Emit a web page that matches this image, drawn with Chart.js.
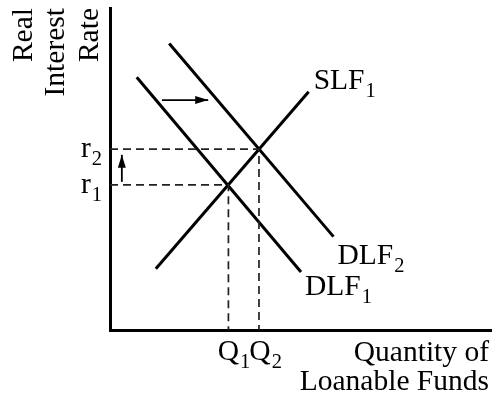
<!DOCTYPE html>
<html>
<head>
<meta charset="utf-8">
<script src="https://cdn.jsdelivr.net/npm/chart.js@4"></script>
<style>
  html, body { margin: 0; padding: 0; background: #fff; }
  #wrap { width: 492px; height: 395px; }
</style>
</head>
<body>
<div id="wrap"><canvas id="myChart" width="492" height="395"></canvas></div>
<script>
// Axis ranges (arbitrary units)
const xRange = [0, 100]
const yRange = [0, 100]

// Curves: end points
const dlf1X = [7, 50]
const dlf1Y = [78.5, 18]
const dlf2X = [15.5, 58.5]
const dlf2Y = [89, 29]
const slf1X = [12, 52]
const slf1Y = [19, 74]

// Equilibrium quantities and rates
const qValues = [31, 39]
const rValues = [45.1, 56.2]
const qLabels = ['Q', 'Q']
const rLabels = ['r', 'r']
const subLabels = ['1', '2']

// Shift arrows
const shiftArrowX = [13.6, 25.7]
const shiftArrowY = [71.4, 71.4]
const rateArrowX = [3.1, 3.1]
const rateArrowY = [46.0, 54.4]

const serif = '"Liberation Serif", "Times New Roman", serif'
const mainFont = '29.5px ' + serif
const subFont = '20.5px ' + serif

const toPoints = (xs, ys) => xs.map((v, i) => ({ x: v, y: ys[i] }))

// Draw "main" with a smaller subscript, left edge at px, baseline at py
const drawSub = (ctx, main, sub, px, py) => {
    ctx.font = mainFont
    const w = ctx.measureText(main).width
    ctx.fillText(main, px, py)
    ctx.font = subFont
    ctx.fillText(sub, px + w + 1, py + 8)
}

const subWidth = (ctx, main, sub) => {
    ctx.font = mainFont
    const w = ctx.measureText(main).width
    ctx.font = subFont
    return w + 1 + ctx.measureText(sub).width
}

const arrowHead = (ctx, from, to, len, half) => {
    const a = Math.atan2(to.y - from.y, to.x - from.x)
    ctx.save()
    ctx.translate(to.x, to.y)
    ctx.rotate(a)
    ctx.beginPath()
    ctx.moveTo(0, 0)
    ctx.lineTo(-len, -half)
    ctx.lineTo(-len, half)
    ctx.closePath()
    ctx.fill()
    ctx.restore()
}

// Labels, axis titles and arrow heads
const annotate = {
    id: 'annotate',
    afterDatasetsDraw(chart) {
        const { ctx, chartArea } = chart
        const xs = chart.scales.x
        const ys = chart.scales.y
        ctx.save()
        ctx.fillStyle = '#000'
        ctx.textBaseline = 'alphabetic'
        ctx.textAlign = 'left'

        // arrow heads
        ;[4, 5].forEach(i => {
            const pts = chart.getDatasetMeta(i).data
            arrowHead(ctx, pts[0], pts[pts.length - 1], 13, 4)
        })

        // curve labels next to the upper/lower ends
        const slfEnd = { x: xs.getPixelForValue(slf1X[1]), y: ys.getPixelForValue(slf1Y[1]) }
        drawSub(ctx, 'SLF', '1', slfEnd.x + 5, slfEnd.y - 3)
        const d2End = { x: xs.getPixelForValue(dlf2X[1]), y: ys.getPixelForValue(dlf2Y[1]) }
        drawSub(ctx, 'DLF', '2', d2End.x + 4, d2End.y + 27)
        const d1End = { x: xs.getPixelForValue(dlf1X[1]), y: ys.getPixelForValue(dlf1Y[1]) }
        drawSub(ctx, 'DLF', '1', d1End.x + 4, d1End.y + 23)

        // r ticks
        rValues.forEach((r, i) => {
            const w = subWidth(ctx, rLabels[i], subLabels[i])
            drawSub(ctx, rLabels[i], subLabels[i], chartArea.left - 8 - w, ys.getPixelForValue(r) + 8)
        })

        // Q ticks
        qValues.forEach((q, i) => {
            ctx.font = mainFont
            const w = ctx.measureText(qLabels[i]).width
            drawSub(ctx, qLabels[i], subLabels[i], xs.getPixelForValue(q) - w / 2 + i, chartArea.bottom + 30)
        })

        // x axis title
        ctx.font = mainFont
        ctx.textAlign = 'right'
        ctx.fillText('Quantity of', chartArea.right - 3, chartArea.bottom + 31)
        ctx.fillText('Loanable Funds', chartArea.right - 3, chartArea.bottom + 60)

        // y axis title, rotated, lines end at the top
        const yTitle = ['Real', 'Interest', 'Rate']
        const baselines = [32, 63.5, 97.5]
        yTitle.forEach((t, i) => {
            ctx.save()
            ctx.translate(baselines[i], chartArea.top)
            ctx.rotate(-Math.PI / 2)
            ctx.textAlign = 'right'
            ctx.fillText(t, 0, 0)
            ctx.restore()
        })
        ctx.restore()
    }
}

const guide = (q, r) => [{ x: xRange[0], y: r }, { x: q, y: r }, { x: q, y: yRange[0] }]

const curve = (data) => ({
    data, showLine: true, pointRadius: 0, borderColor: '#000', borderWidth: 3, fill: false
})
const dashed = (data) => ({
    data, showLine: true, pointRadius: 0, borderColor: '#222', borderWidth: 1.7,
    borderDash: [8, 5], fill: false
})
const arrow = (data) => ({
    data, showLine: true, pointRadius: 0, borderColor: '#000', borderWidth: 1.8, fill: false
})

const ctx = document.getElementById('myChart')

new Chart(ctx, {
    type: 'scatter',
    data: {
        datasets: [
            dashed(guide(qValues[0], rValues[0])),
            dashed(guide(qValues[1], rValues[1])),
            curve(toPoints(dlf1X, dlf1Y)),
            curve(toPoints(dlf2X, dlf2Y)),
            arrow(toPoints(shiftArrowX, shiftArrowY)),
            arrow(toPoints(rateArrowX, rateArrowY)),
            curve(toPoints(slf1X, slf1Y)),
        ]
    },
    options: {
        responsive: false,
        animation: false,
        layout: { padding: { left: 110, top: 8, right: 0, bottom: 65 } },
        plugins: { legend: { display: false }, tooltip: { enabled: false } },
        scales: {
            x: {
                type: 'linear', min: xRange[0], max: xRange[1],
                grid: { display: false, drawTicks: false },
                ticks: { display: false },
                border: { display: true, color: '#000', width: 3 },
                afterFit: s => { s.height = 0 }
            },
            y: {
                type: 'linear', min: yRange[0], max: yRange[1],
                grid: { display: false, drawTicks: false },
                ticks: { display: false },
                border: { display: true, color: '#000', width: 3 },
                afterFit: s => { s.width = 0 }
            }
        }
    },
    plugins: [annotate]
})
</script>
</body>
</html>
